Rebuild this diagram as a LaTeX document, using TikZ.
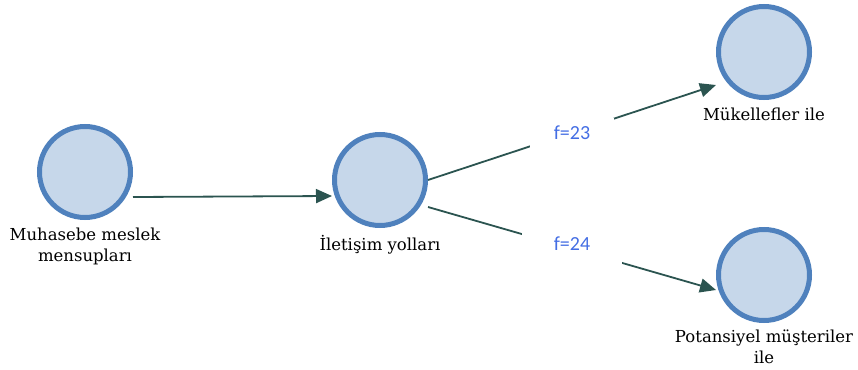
\documentclass[tikz,border=0pt]{standalone}
\usepackage{fontspec}
\setmainfont{DejaVu Serif}
\newfontfamily\flabelfont{Carlito}
\usepackage{tikz}
\usetikzlibrary{arrows.meta, positioning}

\definecolor{ringblue}{RGB}{79,129,189}
\definecolor{discfill}{RGB}{198,215,234}
\definecolor{edgegreen}{RGB}{43,84,80}
\definecolor{freqblue}{RGB}{68,110,228}

\begin{document}
\begin{tikzpicture}[x=1pt, y=-1pt,
    actor/.style={circle, draw=ringblue, fill=discfill, line width=5pt, minimum size=91pt, inner sep=0pt},
    caption/.style={font=\fontsize{16.5}{21}\selectfont, align=center, inner sep=0pt},
    link/.style={draw=edgegreen, line width=1.8pt, -{Triangle[length=16pt, width=14pt]}},
    freq/.style={font=\flabelfont\fontsize{20}{22}\selectfont, text=freqblue, fill=white}]
    \useasboundingbox (0,0) rectangle (858,369);
    % Draw the circles
    \node[actor] (muhasebe) at (85,172) {};
    \node[actor] (iletisim) at (380,180) {};
    \node[actor] (mukellef) at (764,52) {};
    \node[actor] (potansiyel) at (764,275) {};
    % Captions under the circles
    \node[caption, below=8pt of muhasebe] (muhasebetxt) {Muhasebe meslek\\mensupları};
    \node[caption, below=7pt of iletisim] (iletisimtxt) {İletişim yolları};
    \node[caption, below=8pt of mukellef] (mukelleftxt) {Mükellefler ile};
    \node[caption, below=7pt of potansiyel] (potansiyeltxt) {Potansiyel müşteriler\\ile};
    % Arrows
    \draw[link] ([yshift=-25pt]muhasebe.east) -- ([yshift=-16pt]iletisim.west);
    \draw[link] (iletisim.east) -- node[freq, midway, minimum width=84pt, minimum height=30pt] (f23) {f=23} ([yshift=-33pt]mukellef.west);
    \draw[link] ([yshift=-27pt]iletisim.east) -- node[freq, midway, yshift=5pt, minimum width=100pt, minimum height=44pt] (f24) {f=24} ([yshift=-15pt]potansiyel.west);
\end{tikzpicture}
\end{document}
